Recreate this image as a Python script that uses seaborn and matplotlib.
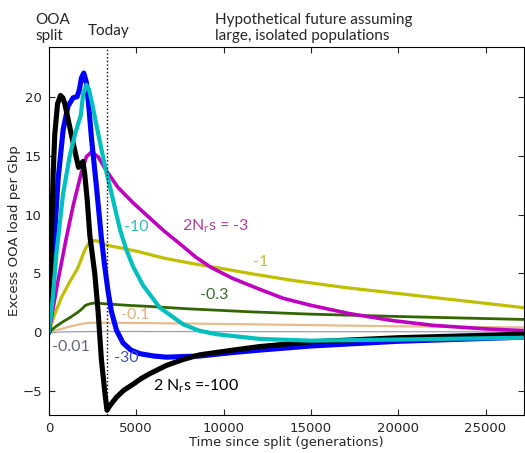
import matplotlib
matplotlib.use("Agg")
import matplotlib.pyplot as plt
import seaborn as sns

# Excess OOA load per Gbp vs generations since the out-of-Africa split,
# one curve per scaled selection coefficient 2 N_r s
t_100 = [0, 100, 150, 250, 340, 500, 670, 800, 915, 1200, 1490, 1700, 1850, 1950,
         2050, 2200, 2350, 2630, 2820, 3010, 3200, 3330, 3500, 3870, 4300, 4820,
         5300, 5780, 6730, 7680, 8640, 10550, 12070, 15000, 20000, 27200]
y_100 = [0, 5.0, 7.8, 13.5, 16.8, 19.4, 20.1, 19.9, 19.4, 17.4, 15.4, 14.0, 14.3, 14.5,
         13.5, 11.2, 8.2, 5.0, 1.8, -2.3, -5.0, -6.6, -6.2, -5.5, -4.9, -4.4,
         -3.9, -3.5, -2.8, -2.3, -1.9, -1.5, -1.2, -0.8, -0.45, -0.15]

t_30 = [0, 150, 340, 530, 820, 1100, 1390, 1620, 1750, 1870, 2000, 2150, 2300, 2440,
        2730, 3010, 3200, 3390, 3580, 3870, 4250, 4700, 5200, 6000, 6730, 8640,
        10550, 12070, 15000, 20000, 27200]
y_30 = [0, 4.0, 8.5, 13.0, 17.2, 19.2, 19.9, 20.0, 20.6, 21.6, 22.0, 21.2, 19.0, 16.5,
        12.3, 8.0, 5.6, 3.5, 1.8, 0.2, -0.9, -1.5, -1.8, -2.0, -2.1, -2.0,
        -1.7, -1.5, -1.15, -0.75, -0.4]

t_10 = [0, 200, 440, 820, 1200, 1500, 1680, 1830, 1960, 2150, 2300, 2440, 2820, 3200,
        3590, 3870, 4100, 4440, 4820, 5390, 6350, 7680, 8600, 9590, 12070, 15000,
        20000, 27200]
y_10 = [0, 2.5, 6.8, 11.8, 15.0, 16.8, 17.7, 18.4, 20.2, 21.0, 20.6, 19.7, 16.9, 14.2,
        11.8, 10.0, 8.6, 7.0, 5.6, 4.0, 2.1, 0.7, 0.15, -0.15, -0.55, -0.7,
        -0.6, -0.45]

t_3 = [0, 500, 1000, 1400, 1870, 2150, 2440, 2820, 3300, 3960, 4820, 5780, 6600, 7600,
       8400, 9300, 10500, 12000, 13400, 15000, 17200, 19700, 22000, 25000, 27200]
y_3 = [0, 4.2, 8.0, 10.8, 13.6, 14.9, 15.3, 14.9, 13.7, 12.3, 11.0, 9.7, 8.6, 7.4,
       6.4, 5.5, 4.6, 3.7, 2.9, 2.3, 1.6, 1.0, 0.6, 0.3, 0.15]

t_1 = [0, 300, 700, 1200, 1600, 1750, 1900, 2100, 2300, 2600, 2800, 3000, 3300, 4000,
       5000, 6600, 8000, 10000, 11500, 14000, 17000, 20000, 23000, 27200]
y_1 = [0, 1.4, 2.9, 4.3, 5.3, 5.8, 6.4, 7.1, 7.6, 7.8, 7.75, 7.6, 7.4, 7.2,
       6.9, 6.3, 5.9, 5.4, 5.0, 4.4, 3.8, 3.3, 2.8, 2.1]

t_03 = [0, 400, 800, 1200, 1500, 1700, 1900, 2100, 2400, 2700, 3000, 4500, 5800, 8000,
        11500, 15000, 20000, 27200]
y_03 = [0, 0.5, 0.9, 1.25, 1.55, 1.75, 2.0, 2.3, 2.45, 2.5, 2.45, 2.3, 2.2, 2.0,
        1.75, 1.55, 1.35, 1.1]

t_01 = [0, 600, 1200, 1800, 2200, 2600, 5000, 10000, 15000, 20000, 27200]
y_01 = [0, 0.25, 0.5, 0.7, 0.8, 0.82, 0.8, 0.72, 0.62, 0.52, 0.42]

t_001 = [0, 1000, 3000, 10000, 27200]
y_001 = [0, 0.05, 0.08, 0.07, 0.05]

today = 3320

curves = [
    (t_001, y_001, "#9999cc", 0.9),
    (t_01, y_01, "#e6bd8c", 1.6),
    (t_03, y_03, "#336600", 2.0),
    (t_1, y_1, "#bfbf00", 2.3),
    (t_3, y_3, "#bf00bf", 2.6),
    (t_30, y_30, "#0000ff", 3.7),
    (t_100, y_100, "#000000", 3.7),
    (t_10, y_10, "#00bfbf", 3.0),
]

sns.set_style("ticks")
plt.rcParams["mathtext.default"] = "regular"

fig = plt.figure(figsize=(5.25, 4.53), dpi=100)
ax = fig.add_axes([0.093, 0.084, 0.905, 0.812])

for t, y, col, lw in curves:
    sns.lineplot(x=t, y=y, color=col, linewidth=lw, ax=ax, estimator=None,
                 sort=False, solid_joinstyle="round", solid_capstyle="round")

ax.axvline(today, color="black", linestyle=":", linewidth=1)

ax.set_xlim(0, 27200)
ax.set_ylim(-7, 24.2)
ax.set_xticks([0, 5000, 10000, 15000, 20000, 25000])
ax.set_yticks([-5, 0, 5, 10, 15, 20])
ax.tick_params(direction="in", top=True, right=True, labelsize=9.5, length=4,
               width=0.8, pad=5)
for s in ax.spines.values():
    s.set_linewidth(0.8)
    s.set_color("black")

ax.set_xlabel("Time since split (generations)", fontsize=9.4, labelpad=1)
ax.set_ylabel("Excess OOA load per Gbp", fontsize=9.6, labelpad=1)

fam = ["Lato", "DejaVu Sans"]
fs = 11
fig.text(35 / 525, 1 - 28 / 453, "OOA\nsplit", family=fam, fontsize=fs,
         va="center", ha="left", linespacing=1.1)
fig.text(88 / 525, 1 - 31 / 453, "Today", family=fam, fontsize=fs,
         va="center", ha="left")
fig.text(215 / 525, 1 - 28 / 453, "Hypothetical future assuming\nlarge, isolated populations",
         family=fam, fontsize=fs, va="center", ha="left", linespacing=1.1)

labels = [
    (124, 227, "-10", "#33bbbb"),
    (182, 226, "2N$_r$s = -3", "#b040a0"),
    (253, 262, "-1", "#c0c040"),
    (200, 295, "-0.3", "#3a6a30"),
    (121, 315, "-0.1", "#e0b080"),
    (52, 347, "-0.01", "#666677"),
    (114, 358, "-30", "#3f55bb"),
    (153, 386, "2 N$_r$s =-100", "#000000"),
]
for px, py, txt, col in labels:
    fig.text(px / 525, 1 - py / 453, txt, family=fam, fontsize=fs + 0.5, color=col,
             va="center", ha="left")

fig.savefig("out.png", dpi=100)
